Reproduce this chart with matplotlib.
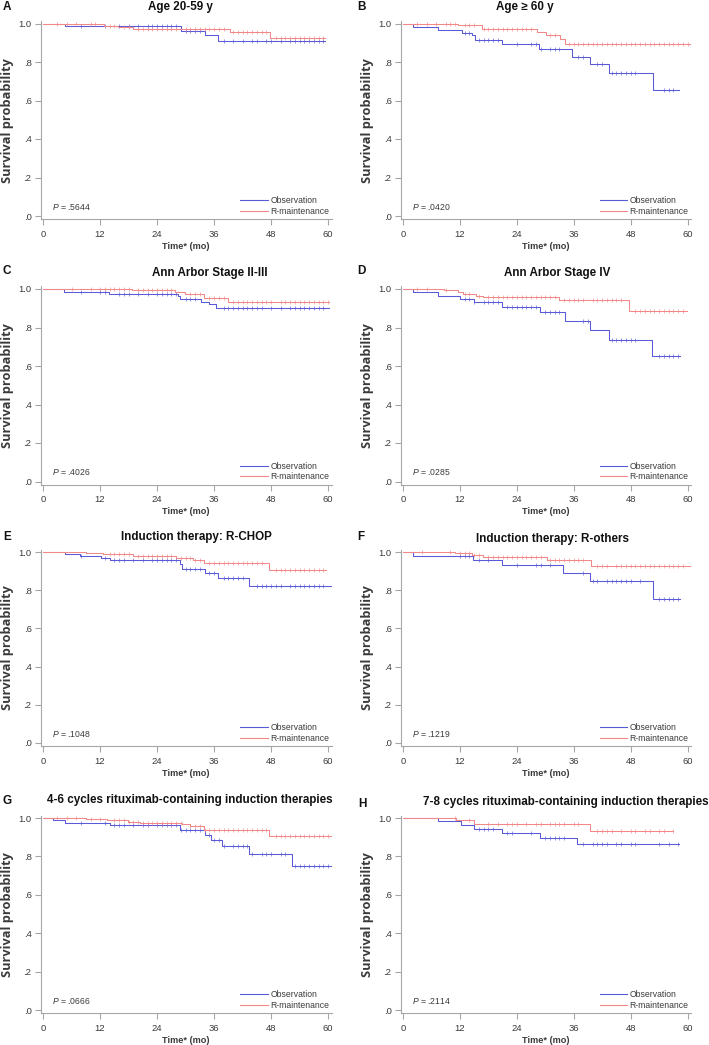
import numpy as np
import matplotlib
matplotlib.use("Agg")
import matplotlib.pyplot as plt
from matplotlib.lines import Line2D

plt.rcParams["font.family"] = ["Liberation Sans", "DejaVu Sans"]
plt.rcParams["mathtext.fontset"] = "custom"
plt.rcParams["mathtext.it"] = "Liberation Sans:italic"
plt.rcParams["mathtext.rm"] = "Liberation Sans"

# ---- panel texts ----
letters = ["A", "B", "C", "D", "E", "F", "G", "H"]
titles = ["Age 20-59 y", "Age \u2265 60 y",
          "Ann Arbor Stage II-III", "Ann Arbor Stage IV",
          "Induction therapy: R-CHOP", "Induction therapy: R-others",
          "4-6 cycles rituximab-containing induction therapies",
          "7-8 cycles rituximab-containing induction therapies"]
p_values = [".5644", ".0420", ".4026", ".0285", ".1048", ".1219", ".0666", ".2114"]
group_names = ["Observation", "R-maintenance"]
x_ticks = [0, 12, 24, 36, 48, 60]
y_ticks = [0, 0.2, 0.4, 0.6, 0.8, 1.0]
y_tick_labels = [".0", ".2", ".4", ".6", ".8", "1.0"]

# ---- Kaplan-Meier step data (event times, survival after event, last follow-up) ----
a_obs_t = [0, 4.6, 29.0, 34.0, 36.9]
a_obs_s = [1.0, 0.986, 0.962, 0.939, 0.910]
a_obs_end = 59.3
a_obs_cens = [8, 13, 16, 18, 20, 22, 23, 24, 25, 26, 27, 28, 30, 31, 32, 33, 38, 40, 42, 44,
              45, 47, 48, 50, 52, 53, 54, 55, 56, 57, 58, 59]
a_rm_t = [0, 9.0, 12.9, 15.8, 19.0, 39.3, 47.8]
a_rm_s = [1.0, 0.995, 0.989, 0.984, 0.974, 0.958, 0.927]
a_rm_end = 59.3
a_rm_cens = [3, 5, 7, 10, 11, 14, 15, 17, 18, 20, 21, 22, 23, 24, 25, 26, 27, 28, 30, 31, 32,
             33, 34, 35, 36, 37, 38, 40, 41, 42, 43, 44, 45, 46, 47, 49, 50, 51, 52, 53, 54,
             55, 56, 57, 58, 59]

b_obs_t = [0, 2.1, 7.4, 12.4, 14.5, 15.2, 20.8, 28.6, 35.6, 39.5, 43.4, 52.8]
b_obs_s = [1.0, 0.983, 0.965, 0.952, 0.938, 0.913, 0.894, 0.865, 0.827, 0.792, 0.744, 0.652]
b_obs_end = 58.2
b_obs_cens = [13, 14, 16, 17, 18, 19, 20, 24, 27, 28, 29, 31, 32, 33, 37, 38, 41, 42, 44, 45,
              46, 47, 48, 49, 55, 56, 57]
b_rm_t = [0, 11.6, 16.6, 28.2, 30.2, 33.2, 34.2]
b_rm_s = [1.0, 0.990, 0.974, 0.957, 0.938, 0.917, 0.894]
b_rm_end = 61.0
b_rm_cens = [3, 5, 7, 9, 10, 11, 13, 14, 15, 17, 18, 19, 20, 21, 22, 23, 24, 25, 26, 27, 31,
             32, 35, 36, 37, 38, 39, 40, 41, 42, 43, 44, 45, 46, 47, 48, 49, 50, 51, 52, 53,
             54, 55, 56, 57, 58, 59, 60]

c_obs_t = [0, 4.4, 13.9, 28.5, 28.9, 33.2, 34.9, 36.5]
c_obs_s = [1.0, 0.986, 0.974, 0.962, 0.950, 0.932, 0.923, 0.900]
c_obs_end = 60.2
c_obs_cens = [8, 12, 13, 16, 17, 18, 20, 22, 24, 25, 26, 27, 28, 30, 31, 32, 38, 39, 40, 41,
              42, 43, 44, 45, 46, 48, 50, 52, 53, 54, 55, 56, 57, 58, 59]
c_rm_t = [0, 18.8, 27.8, 29.9, 33.8, 39.0]
c_rm_s = [1.0, 0.993, 0.984, 0.974, 0.953, 0.930]
c_rm_end = 60.2
c_rm_cens = [6, 10, 12, 13, 14, 15, 16, 17, 18, 20, 21, 22, 23, 24, 25, 26, 27, 31, 32, 33,
             35, 36, 37, 38, 40, 41, 42, 43, 44, 45, 46, 47, 48, 50, 51, 52, 53, 54, 55, 56,
             57, 58, 59, 60]

d_obs_t = [0, 2.2, 7.4, 12.1, 14.9, 20.8, 28.8, 34.1, 39.4, 43.4, 52.6]
d_obs_s = [1.0, 0.984, 0.965, 0.950, 0.931, 0.908, 0.879, 0.835, 0.789, 0.735, 0.650]
d_obs_end = 58.4
d_obs_cens = [13, 14, 15, 17, 18, 19, 20, 22, 23, 24, 25, 26, 27, 28, 30, 31, 32, 33, 38, 39,
              44, 45, 46, 47, 48, 49, 54, 55, 56, 57, 58]
d_rm_t = [0, 8.7, 11.5, 12.6, 15.4, 16.8, 33.0, 47.6]
d_rm_s = [1.0, 0.993, 0.984, 0.976, 0.965, 0.957, 0.941, 0.884]
d_rm_end = 59.9
d_rm_cens = [3, 5, 9, 13, 14, 16, 18, 19, 20, 21, 22, 23, 24, 25, 26, 27, 28, 29, 30, 31, 32,
             34, 35, 36, 37, 38, 40, 41, 42, 43, 44, 45, 46, 49, 50, 51, 52, 53, 54, 55, 56,
             57, 58, 59]

e_obs_t = [0, 4.6, 7.8, 12.3, 14.1, 28.8, 29.2, 34.2, 36.9, 43.4]
e_obs_s = [1.0, 0.991, 0.979, 0.969, 0.957, 0.939, 0.913, 0.890, 0.864, 0.824]
e_obs_end = 60.7
e_obs_cens = [8, 13, 15, 16, 17, 19, 21, 23, 24, 25, 26, 27, 28, 30, 31, 32, 33, 35, 36, 38,
              39, 40, 41, 42, 45, 46, 47, 48, 49, 50, 52, 53, 54, 55, 56, 57, 58, 59]
e_rm_t = [0, 9.0, 12.7, 19.0, 28.1, 31.6, 33.9, 47.6]
e_rm_s = [1.0, 0.995, 0.988, 0.979, 0.970, 0.960, 0.943, 0.908]
e_rm_end = 59.6
e_rm_cens = [14, 15, 16, 17, 18, 20, 21, 22, 23, 24, 25, 26, 27, 29, 30, 31, 32, 33, 35, 36,
             37, 38, 39, 40, 41, 42, 43, 44, 45, 46, 49, 50, 51, 52, 53, 54, 55, 56, 57, 58, 59]

f_obs_t = [0, 2.1, 14.8, 20.8, 33.7, 39.5, 52.8]
f_obs_s = [1.0, 0.979, 0.957, 0.934, 0.890, 0.847, 0.753]
f_obs_end = 58.4
f_obs_cens = [12, 13, 14, 16, 18, 24, 28, 29, 31, 38, 40, 41, 43, 44, 45, 46, 47, 48, 50, 54,
              55, 56, 57, 58]
f_rm_t = [0, 10.9, 14.5, 16.9, 30.3, 39.7]
f_rm_s = [1.0, 0.995, 0.986, 0.974, 0.957, 0.925]
f_rm_end = 61.0
f_rm_cens = [4, 10, 12, 13, 14, 15, 16, 18, 19, 20, 21, 22, 23, 24, 25, 26, 27, 28, 29, 31,
             32, 33, 34, 35, 36, 37, 38, 41, 42, 43, 45, 46, 47, 48, 49, 50, 51, 52, 53, 54,
             55, 56, 57, 58, 59]

g_obs_t = [0, 2.2, 4.6, 14.1, 28.8, 34.0, 35.3, 37.6, 43.4, 52.5]
g_obs_s = [1.0, 0.988, 0.976, 0.962, 0.939, 0.913, 0.884, 0.853, 0.811, 0.750]
g_obs_end = 60.7
g_obs_cens = [8, 13, 15, 16, 17, 19, 21, 22, 24, 25, 26, 27, 28, 29, 30, 31, 32, 33, 35, 36,
              37, 38, 40, 41, 42, 43, 44, 46, 47, 48, 50, 51, 53, 54, 55, 56, 57, 58, 59, 60]
g_rm_t = [0, 9.0, 13.4, 17.9, 20.4, 29.2, 30.9, 33.8, 47.6]
g_rm_s = [1.0, 0.995, 0.988, 0.981, 0.976, 0.967, 0.958, 0.936, 0.906]
g_rm_end = 60.7
g_rm_cens = [3, 5, 7, 10, 12, 15, 16, 17, 18, 19, 20, 21, 22, 23, 24, 25, 26, 27, 28, 29, 31,
             32, 33, 34, 35, 36, 37, 38, 39, 40, 41, 42, 43, 44, 45, 46, 47, 49, 50, 51, 52,
             53, 54, 55, 56, 57, 58, 59, 60]

h_obs_t = [0, 7.4, 12.3, 14.9, 20.8, 28.8, 36.8]
h_obs_s = [1.0, 0.983, 0.965, 0.945, 0.924, 0.898, 0.867]
h_obs_end = 58.2
h_obs_cens = [16, 17, 18, 19, 22, 23, 27, 30, 31, 32, 33, 34, 38, 40, 41, 42, 43, 45, 46, 48,
              49, 54, 56, 58]
h_rm_t = [0, 11.2, 14.9, 39.5]
h_rm_s = [1.0, 0.991, 0.971, 0.932]
h_rm_end = 57.0
h_rm_cens = [11, 14, 18, 20, 22, 23, 24, 26, 28, 29, 31, 32, 33, 34, 36, 37, 41, 42, 43, 44,
             46, 48, 49, 51, 52, 54, 55, 57]

obs_curves = [(a_obs_t, a_obs_s, a_obs_end, a_obs_cens), (b_obs_t, b_obs_s, b_obs_end, b_obs_cens),
              (c_obs_t, c_obs_s, c_obs_end, c_obs_cens), (d_obs_t, d_obs_s, d_obs_end, d_obs_cens),
              (e_obs_t, e_obs_s, e_obs_end, e_obs_cens), (f_obs_t, f_obs_s, f_obs_end, f_obs_cens),
              (g_obs_t, g_obs_s, g_obs_end, g_obs_cens), (h_obs_t, h_obs_s, h_obs_end, h_obs_cens)]
rm_curves = [(a_rm_t, a_rm_s, a_rm_end, a_rm_cens), (b_rm_t, b_rm_s, b_rm_end, b_rm_cens),
             (c_rm_t, c_rm_s, c_rm_end, c_rm_cens), (d_rm_t, d_rm_s, d_rm_end, d_rm_cens),
             (e_rm_t, e_rm_s, e_rm_end, e_rm_cens), (f_rm_t, f_rm_s, f_rm_end, f_rm_cens),
             (g_rm_t, g_rm_s, g_rm_end, g_rm_cens), (h_rm_t, h_rm_s, h_rm_end, h_rm_cens)]

# ---- layout (pixels in a 709x1045 canvas) ----
W, H = 709, 1045
col_x0 = [43, 403]        # pixel of t = 0
col_x60 = [328, 687.5]    # pixel of t = 60
row_y1 = [23.5, 289, 552, 818]    # pixel of S = 1.0
row_y0 = [216, 481.5, 743, 1010]  # pixel of S = 0
title_cx = [180, 525, 210, 557, 196, 553, 190, 566]
title_y = [7, 7, 273, 273, 537, 539, 800, 802]
letter_xy = [(7, 7), (361, 7), (7, 271), (361, 271), (7, 537), (361, 537), (7, 801), (362, 804)]
XLIM = (-0.5, 60.8)
YLIM = (-0.018, 1.013)

BLUE = "#5a5ad8"
RED = "#f38888"
GRAY = "#a6a6a6"
TXT = "#3a3a3a"


def draw_km(ax, t, s, end, cens, color):
    tt = list(t) + [end]
    ss = list(s) + [s[-1]]
    ax.step(tt, ss, where="post", color=color, lw=0.75)
    cens = np.asarray(cens, dtype=float)
    cens = cens[cens <= end]
    idx = np.searchsorted(np.asarray(t), cens, side="right") - 1
    ax.plot(cens, np.asarray(s)[idx], ls="none", marker="|", ms=2.2, mew=0.45, color=color)


fig = plt.figure(figsize=(W / 100, H / 100), dpi=100)

for i in range(8):
    col, row = i % 2, i // 2
    ppx = (col_x60[col] - col_x0[col]) / 60.0
    ppy = row_y0[row] - row_y1[row]
    left = col_x0[col] + XLIM[0] * ppx
    right = col_x0[col] + XLIM[1] * ppx
    top = row_y0[row] - YLIM[1] * ppy
    bottom = row_y0[row] - YLIM[0] * ppy
    ax = fig.add_axes([left / W, 1 - bottom / H, (right - left) / W, (bottom - top) / H])

    draw_km(ax, *obs_curves[i], BLUE)
    draw_km(ax, *rm_curves[i], RED)

    ax.set_xlim(*XLIM)
    ax.set_ylim(*YLIM)
    ax.set_xticks(x_ticks)
    ax.set_yticks(y_ticks)
    ax.set_yticklabels(y_tick_labels)
    for sp in ["top", "right"]:
        ax.spines[sp].set_visible(False)
    for sp in ["left", "bottom"]:
        ax.spines[sp].set_color(GRAY)
        ax.spines[sp].set_linewidth(0.8)
    ax.tick_params(colors=GRAY, labelcolor=TXT, labelsize=6.8, length=4, width=0.8, pad=2.5)
    ax.tick_params(axis="x", pad=3.5)

    ax.set_xlabel("Time* (mo)", fontsize=6.6, fontweight="bold", color=TXT, labelpad=2)
    ax.set_ylabel("Survival probability", fontsize=9.2, fontweight="bold", color=TXT,
                  family=["Open Sans", "DejaVu Sans"], labelpad=3)

    ax.text(2, 0.022, r"$\mathit{P}$ = " + p_values[i], fontsize=6.2, color=TXT,
            va="bottom", ha="left")

    handles = [Line2D([], [], color=BLUE, lw=0.8), Line2D([], [], color=RED, lw=0.8)]
    ax.legend(handles, group_names, loc="lower right", bbox_to_anchor=(1.0, 0.005),
              frameon=False, fontsize=6.2, handlelength=3.2, handletextpad=0.3,
              labelspacing=0.2, borderaxespad=0.2, borderpad=0.1,
              labelcolor=TXT)

    fig.text(title_cx[i] / W, 1 - title_y[i] / H, titles[i], ha="center", va="center",
             fontsize=8.4, fontweight="bold", color="#111111")
    lx, ly = letter_xy[i]
    fig.text(lx / W, 1 - ly / H, letters[i], ha="center", va="center",
             fontsize=8.5, fontweight="bold", color="#111111")

fig.savefig("out.png", dpi=100, facecolor="white")
